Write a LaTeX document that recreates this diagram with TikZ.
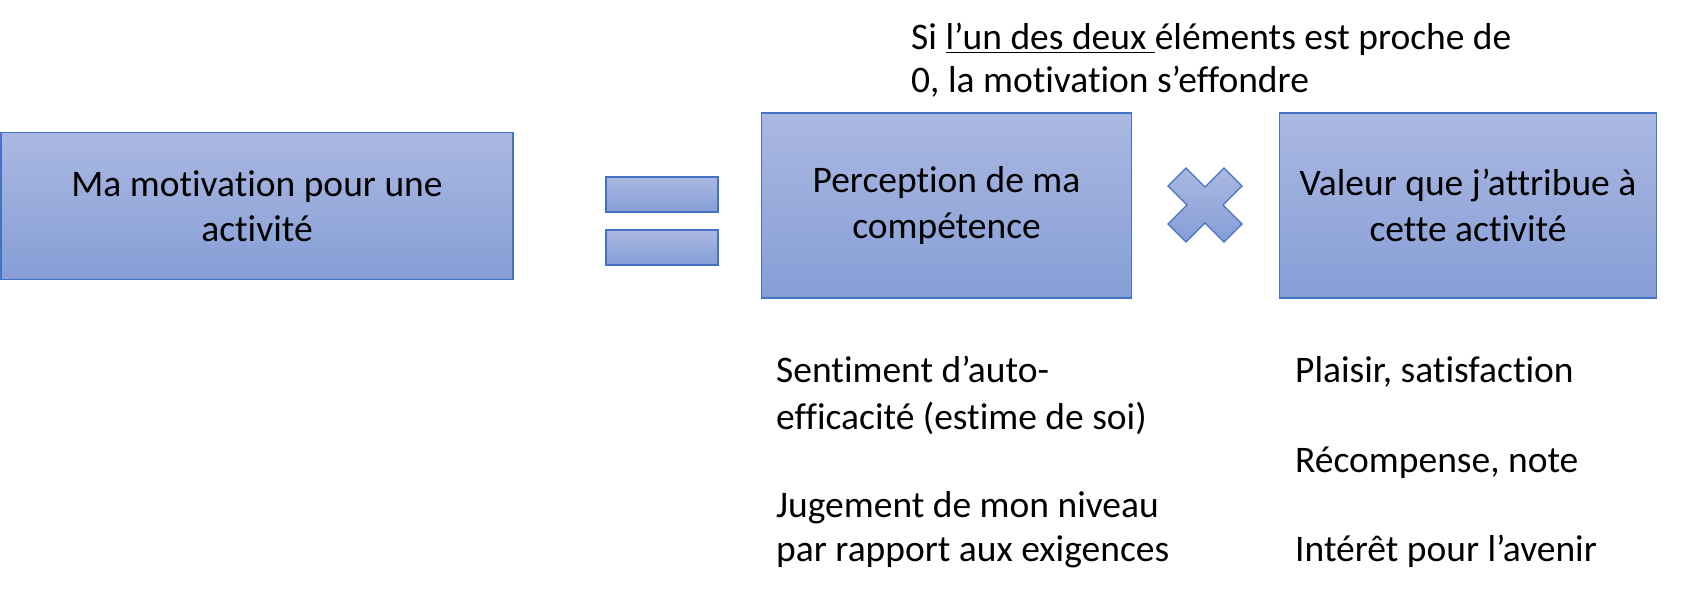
\documentclass[tikz,border=0pt]{standalone}
\usepackage{fontspec}
\setmainfont{Carlito}[Ligatures={NoCommon}]
\definecolor{gtop}{HTML}{AAB8E1}
\definecolor{gbot}{HTML}{869ED6}
\definecolor{bline}{HTML}{4472C4}
\newcommand\bigfont{\fontsize{37.5}{45.5}\selectfont}
\newcommand\ulword[1]{\setbox0\hbox{#1}\rlap{\rule[-3.5pt]{\wd0}{1.6pt}}\box0}
\begin{document}
\begin{tikzpicture}[x=1pt,y=-1pt,
  grad/.style={draw=bline, line width=1.1pt, top color=gtop, bottom color=gbot},
  box/.style={grad, shape=rectangle, align=center, inner sep=0pt, font=\bigfont},
  bar/.style={grad, shape=rectangle, inner sep=0pt, minimum width=112pt, minimum height=35pt},
  txt/.style={anchor=base west, inner sep=0pt, font=\bigfont},
]
\useasboundingbox (0,0) rectangle (1704,596);
\node[box, minimum width=512pt, minimum height=147pt] (motiv) at (257,206) {Ma motivation pour une\\activité};
\node[bar] (eq1) at (662,194.5) {};
\node[bar] (eq2) at (662,247.5) {};
\node[box, minimum width=370pt, minimum height=185pt] (comp) at (946.5,205.5) {Perception de ma\\compétence};
\draw[grad] (1205,187) -- (1224,168) -- (1242,186) -- (1223,205) -- (1242,224) -- (1224,242)
  -- (1205,223) -- (1186,242) -- (1168,224) -- (1187,205) -- (1168,186) -- (1186,168) -- cycle;
\node[box, minimum width=377pt, minimum height=185pt] (val) at (1468,205.5) {Valeur que j’attribue à\\cette activité};
\node[txt] (t1) at (911,50) {Si \ulword{l’un des deux }éléments est proche de};
\node[txt] (t2) at (911,93) {0, la motivation s’effondre};
\node[txt] (l1) at (776,382) {Sentiment d’auto-};
\node[txt] (l2) at (776,429) {efficacité (estime de soi)};
\node[txt] (l3) at (776,517) {Jugement de mon niveau};
\node[txt] (l4) at (776,561) {par rapport aux exigences};
\node[txt] (r1) at (1295,382) {Plaisir, satisfaction};
\node[txt] (r2) at (1295,472) {Récompense, note};
\node[txt] (r3) at (1295,561) {Intérêt pour l’avenir};
\end{tikzpicture}
\end{document}
